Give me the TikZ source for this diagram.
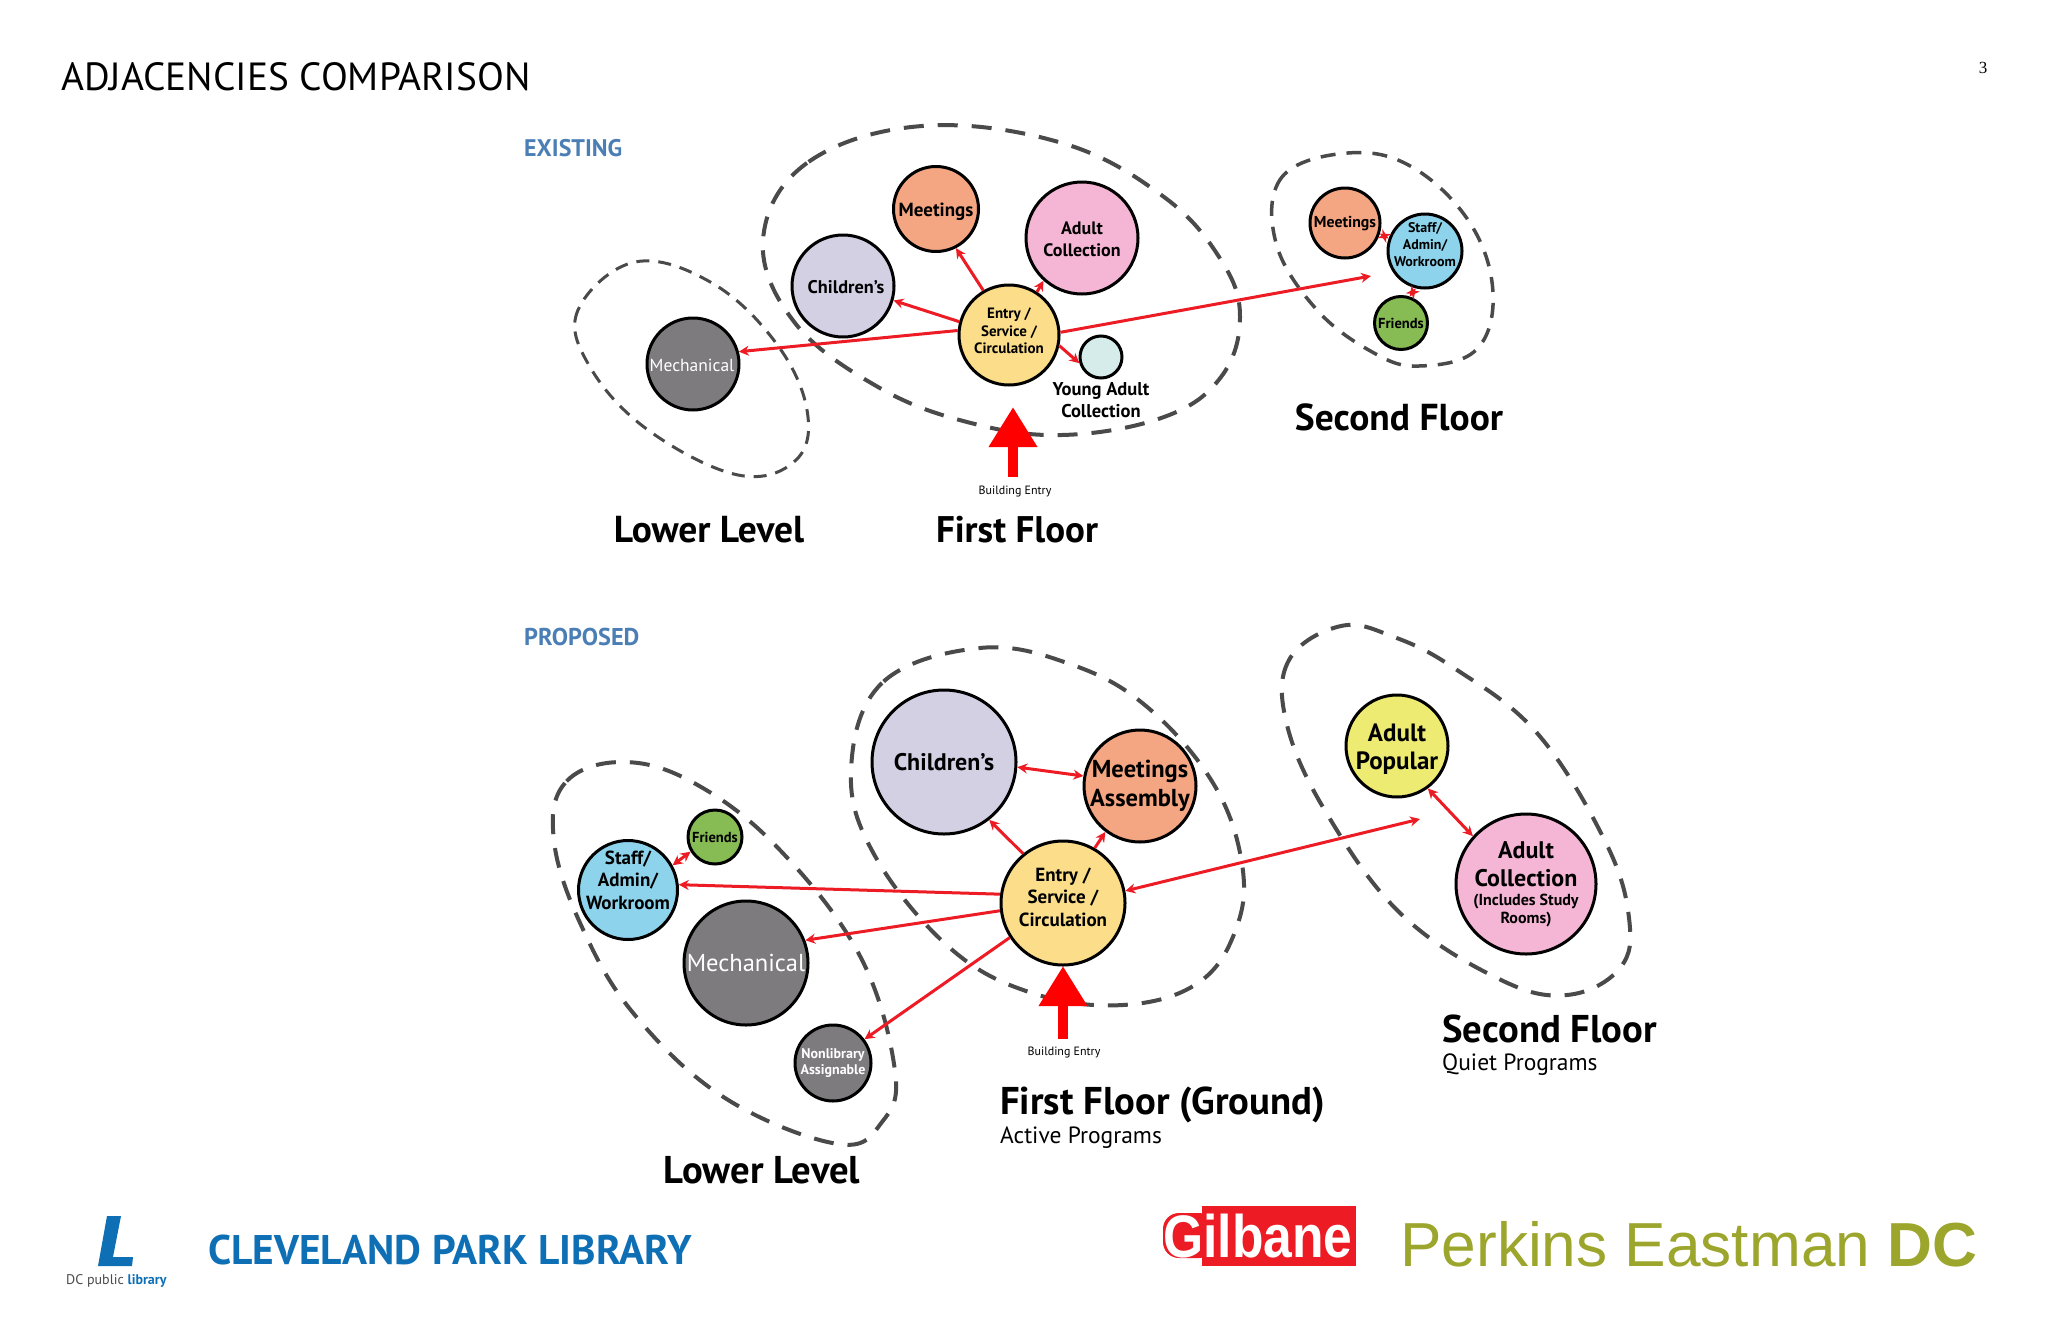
\documentclass[tikz,border=0pt]{standalone}
\usepackage{fontspec}
\setmainfont{PT Sans}
\newfontfamily\arialfont{Liberation Sans}
\newfontfamily\timesfont{Liberation Serif}
\usetikzlibrary{positioning, shapes, arrows.meta}
\definecolor{peach}{RGB}{244,165,130}
\definecolor{pinkish}{RGB}{245,182,213}
\definecolor{lavender}{RGB}{211,208,228}
\definecolor{sand}{RGB}{251,221,138}
\definecolor{skyish}{RGB}{141,211,236}
\definecolor{leaf}{RGB}{134,188,83}
\definecolor{slate}{RGB}{125,123,126}
\definecolor{pale}{RGB}{213,236,234}
\definecolor{lime}{RGB}{237,235,114}
\definecolor{arrowred}{RGB}{237,28,36}
\definecolor{dashgrey}{RGB}{74,74,74}
\definecolor{headblue}{RGB}{74,126,181}
\definecolor{logoblue}{RGB}{15,111,181}
\definecolor{olive}{RGB}{156,165,44}

\begin{document}
\begin{tikzpicture}[x=1pt,y=-1pt]
\tikzset{
tx/.style 2 args={font=\fontsize{#1}{#2}\selectfont\bfseries},
txn/.style 2 args={font=\fontsize{#1}{#2}\selectfont},
every label/.style={align=center, inner sep=0pt},
room/.style={draw, shape=circle, line width=3pt, inner sep=0pt, minimum size=#1},
word/.style={inner sep=0pt, align=left},
floor/.style={dashgrey, line width=4pt, dash pattern=on 20pt off 14pt},
link/.style={arrowred, line width=3pt, >={Stealth[length=10pt,width=10pt]}},
door/.style={red, line width=10pt, -{Triangle[length=40pt,width=46pt]}}
}
\useasboundingbox (0,0) rectangle (2048,1325);
\path (61,77) node [word, anchor=west, txn={39.3}{42}] (title) {ADJACENCIES COMPARISON};
\path (1983,68) node [word, font=\fontsize{17}{20}\timesfont] (page) {3};
\path (524,148) node [word, anchor=west, tx={24}{28}, text=headblue] (existing) {EXISTING};
\path (524,637) node [word, anchor=west, tx={24.3}{28}, text=headblue] (proposed) {PROPOSED};

\draw [floor] plot [smooth cycle, tension=0.65] coordinates {(922,126) (807,163) (763,240) (795,323) (878,387) (967,422) (1062,435) (1164,417) (1221,377) (1240,317) (1221,260) (1164,197) (1062,143)};
\draw [floor, line width=3pt, dash pattern=on 13pt off 9pt] plot [smooth cycle, tension=0.65] coordinates {(635,262) (578,310) (590,367) (648,430) (738,475) (796,460) (807,410) (776,343) (712,283)};
\draw [floor, line width=3.5pt, dash pattern=on 15pt off 11pt] plot [smooth cycle, tension=0.65] coordinates {(1348,153) (1282,177) (1276,243) (1317,310) (1374,353) (1419,366) (1476,350) (1493,293) (1470,223) (1412,167)};

\path (936,209) node [room=85pt, fill=peach, label={[tx={19}{21},yshift=-3pt]center:Meetings}] (eMeet) {};
\path (1082,238) node [room=112pt, fill=pinkish, label={[tx={18}{22},yshift=-1pt]center:Adult\\Collection}] (eAdult) {};
\path (843,286) node [room=102pt, fill=lavender, label={[tx={18.3}{21},yshift=-1pt,xshift=3pt]center:Children’s}] (eChild) {};
\path (1009,335) node [room=100pt, fill=sand, label={[tx={15}{17.5},yshift=4pt]center:Entry /\\Service /\\Circulation}] (eEntry) {};
\path (1101,357) node [room=42pt, fill=pale] (eYoung) {};
\path (693,364) node [room=92pt, fill=slate, label={[txn={17.5}{20},text=white,yshift=-1pt,xshift=-1pt]center:Mechanical}] (eMech) {};
\path (1345,223) node [room=70pt, fill=peach, label={[tx={15.8}{17},yshift=-1pt]center:Meetings}] (eMeetUp) {};
\path (1425,251) node [room=74pt, fill=skyish, label={[tx={14}{17},yshift=6pt]center:Staff/\\Admin/\\Workroom}] (eStaff) {};
\path (1401,323) node [room=53pt, fill=leaf, label={[tx={14.5}{15}]center:Friends}] (eFriends) {};
\coordinate (eUp) at (1371,276);
\coordinate (eDoorFoot) at (1013,477);
\coordinate (eDoorTip) at (1013,407);

\draw [link, ->] (eEntry.165) -- (eChild.344);
\draw [link, ->] (eEntry.120) -- (eMeet.297);
\draw [link, ->] (eEntry.57) -- (eAdult.228);
\draw [link, ->] (eEntry.348) -- (eYoung.196);
\draw [link, ->] (eEntry.175) -- (eMech.15);
\draw [link, ->] (eEntry.3) -- (eUp);
\draw [link, <->] (eStaff.161) -- (eMeetUp.343);
\draw [link, <->] (eStaff.256) -- (eFriends.72);
\draw [door] (eDoorFoot) -- (eDoorTip);

\path (1101,400) node [word, align=center, tx={18.5}{21.5}] (eYoungText) {Young Adult\\Collection};
\path (1015,492) node [word, txn={12}{14}] (eDoorText) {Building Entry};
\path (709,530) node [word, tx={37.5}{40}] (eLower) {Lower Level};
\path (1017,530) node [word, tx={37}{40}] (eFirst) {First Floor};
\path (1399,417) node [word, tx={37.5}{40}] (eSecond) {Second Floor};

\draw [floor] plot [smooth cycle, tension=0.65] coordinates {(980,648) (882,683) (851,771) (875,856) (950,948) (1032,993) (1123,1005) (1198,983) (1236,929) (1242,864) (1213,783) (1146,706) (1070,664)};
\draw [floor] plot [smooth cycle, tension=0.65] coordinates {(622,762) (565,783) (554,841) (581,925) (634,1014) (725,1098) (838,1144) (882,1122) (895,1071) (860,956) (778,848) (694,783)};
\draw [floor] plot [smooth cycle, tension=0.65] coordinates {(1341,626) (1289,660) (1287,725) (1327,814) (1401,914) (1499,979) (1567,995) (1620,968) (1629,918) (1605,841) (1537,733) (1454,668) (1394,637)};

\path (944,762) node [room=144pt, fill=lavender, label={[tx={24}{28}]center:Children’s}] (pChild) {};
\path (1140,786) node [room=112pt, fill=peach, label={[tx={24.5}{29}]center:Meetings\\Assembly}] (pMeet) {};
\path (1063,903) node [room=124pt, fill=sand, label={[tx={19}{22.5},yshift=6pt]center:Entry /\\Service /\\Circulation}] (pEntry) {};
\path (715,837) node [room=54pt, fill=leaf, label={[tx={14.5}{15}]center:Friends}] (pFriends) {};
\path (628,890) node [room=99pt, fill=skyish, label={[tx={19}{22.5},yshift=10pt]center:Staff/\\Admin/\\Workroom}] (pStaff) {};
\path (746,963) node [room=124pt, fill=slate, label={[txn={24.5}{28},text=white]center:Mechanical}] (pMech) {};
\path (833,1063) node [room=76pt, fill=slate, label={[tx={14}{16},text=white]center:Nonlibrary\\Assignable}] (pNon) {};
\path (1397,746) node [room=102pt, fill=lime, label={[tx={25}{28.5},yshift=-3pt]center:Adult\\Popular}] (pPopular) {};
\path (1526,884) node [room=140pt, fill=pinkish, label={[tx={24}{28.5}]center:Adult\\Collection\\[-9.5pt]{\fontsize{16}{18}\selectfont (Includes Study}\\[-11pt]{\fontsize{16}{18}\selectfont Rooms)}}] (pAdult) {};
\coordinate (pUp) at (1420,819);
\coordinate (pDoorFoot) at (1063,1039);
\coordinate (pDoorTip) at (1063,966);

\draw [link, <->] (pChild.356) -- (pMeet.170);
\draw [link, ->] (pEntry.129) -- (pChild.308);
\draw [link, ->] (pEntry.60) -- (pMeet.233);
\draw [link, ->] (pEntry.172) -- (pStaff.6);
\draw [link, ->] (pEntry.187) -- (pMech.21);
\draw [link, ->] (pEntry.213) -- (pNon.37);
\draw [link, <->] (pEntry.11) -- (pUp);
\draw [link, <->] (pPopular.306) -- (pAdult.138);
\draw [link, <->] (pStaff.29) -- (pFriends.211);
\draw [door] (pDoorFoot) -- (pDoorTip);

\path (1064,1053) node [word, txn={12}{14}] (pDoorText) {Building Entry};
\path (762,1170) node [word, tx={38.7}{42}] (pLower) {Lower Level};
\path (1000,1105) node [word, anchor=west, tx={38.7}{42}] (pFirst) {First Floor (Ground)};
\path (1000,1138) node [word, anchor=west, txn={23.5}{26}] (pActive) {Active Programs};
\path (1442,1029) node [word, anchor=west, tx={38.7}{42}] (pSecond) {Second Floor};
\path (1442,1065) node [word, anchor=west, txn={23.5}{26}] (pQuiet) {Quiet Programs};

\fill [logoblue] (107,1216) -- (121,1216) -- (113,1257) -- (133,1257) -- (132,1266) -- (98,1266) -- cycle;
\path (66,1281) node [word, anchor=west, txn={14}{16}, text=dashgrey] (dcLogo) {DC public \textcolor{logoblue}{\bfseries library}};
\path (208,1250) node [word, anchor=west, tx={41.4}{44}, text=logoblue] (branch) {CLEVELAND PARK LIBRARY};

\fill [arrowred] (1202,1206) rectangle (1356,1266);
\fill [arrowred, rounded corners=16pt] (1163,1213) rectangle (1215,1258);
\path (1258,1236) node [word, font=\fontsize{60}{64}\arialfont\bfseries, text=white] (gilbane) {\scalebox{0.86}[1]{Gilbane}};
\path (1400,1244) node [word, anchor=west, font=\fontsize{62.2}{68}\arialfont, text=olive] (perkins) {Perkins Eastman \textbf{DC}};
\end{tikzpicture}
\end{document}
